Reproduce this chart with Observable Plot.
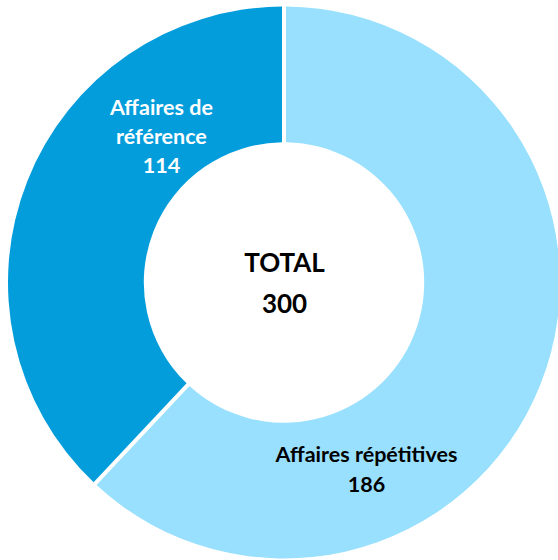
<!DOCTYPE html>
<html>
<head>
<meta charset="utf-8">
<script src="https://cdn.jsdelivr.net/npm/d3@7"></script>
<script src="https://cdn.jsdelivr.net/npm/@observablehq/plot@0.6"></script>
<style>
  html, body { margin: 0; padding: 0; background: #fff; }
  #chart svg { display: block; }
</style>
</head>
<body>
<div id="chart"></div>
<script>
// Data
const categories = ["Affaires répétitives", "Affaires de référence"];
const values = [186, 114];
const colors = ["#98e0fd", "#049ddc"];
const totalLabel = "TOTAL";
const total = 300;

const data = categories.map((c, i) => ({category: c, value: values[i]}));

const innerRatio = 0.508;

function donut(index, scales) {
  const sx = scales.x, sy = scales.y, color = scales.color;
  const cx = sx(0), cy = sy(0);
  const R = sx(1) - sx(0);
  const pie = d3.pie().sort(null).value(d => d.value);
  const arc = d3.arc()
    .innerRadius(R * innerRatio)
    .outerRadius(R)
    .padAngle(4 / R)
    .padRadius(R);
  const g = d3.create("svg:g").attr("transform", `translate(${cx},${cy})`);
  g.selectAll("path")
    .data(pie(data))
    .join("path")
    .attr("d", arc)
    .attr("fill", d => color(d.data.category));
  return g.node();
}

const darkLabel = [{text: `Affaires de\nréférence\n${values[1]}`}];
const lightLabel = [{text: `${categories[0]}\n${values[0]}`}];

const chart = Plot.plot({
  width: 558,
  height: 560,
  margin: 0,
  style: {background: "white", fontFamily: "Lato, 'Open Sans', sans-serif"},
  x: {domain: [-1, 1], range: [8, 560], axis: null},
  y: {domain: [-1, 1], range: [6.5, 558.5], axis: null},
  color: {domain: categories, range: colors},
  marks: [
    donut,
    Plot.text(darkLabel, {
      x: () => -0.446, y: () => -0.537, text: "text", fill: "white",
      fontSize: 21.5, fontWeight: "bold", lineHeight: 1.36,
      textAnchor: "middle"
    }),
    Plot.text(lightLabel, {
      x: () => 0.297, y: () => 0.667, text: "text", fill: "black",
      fontSize: 21.5, fontWeight: "bold", lineHeight: 1.44,
      textAnchor: "middle"
    }),
    Plot.text([`${totalLabel}\n${total}`], {
      x: () => 0, y: () => -0.014, text: d => d,
      fontSize: 26, fontWeight: "bold", lineHeight: 1.58,
      fill: "black", textAnchor: "middle"
    })
  ]
});

document.getElementById("chart").appendChild(chart);
</script>
</body>
</html>
